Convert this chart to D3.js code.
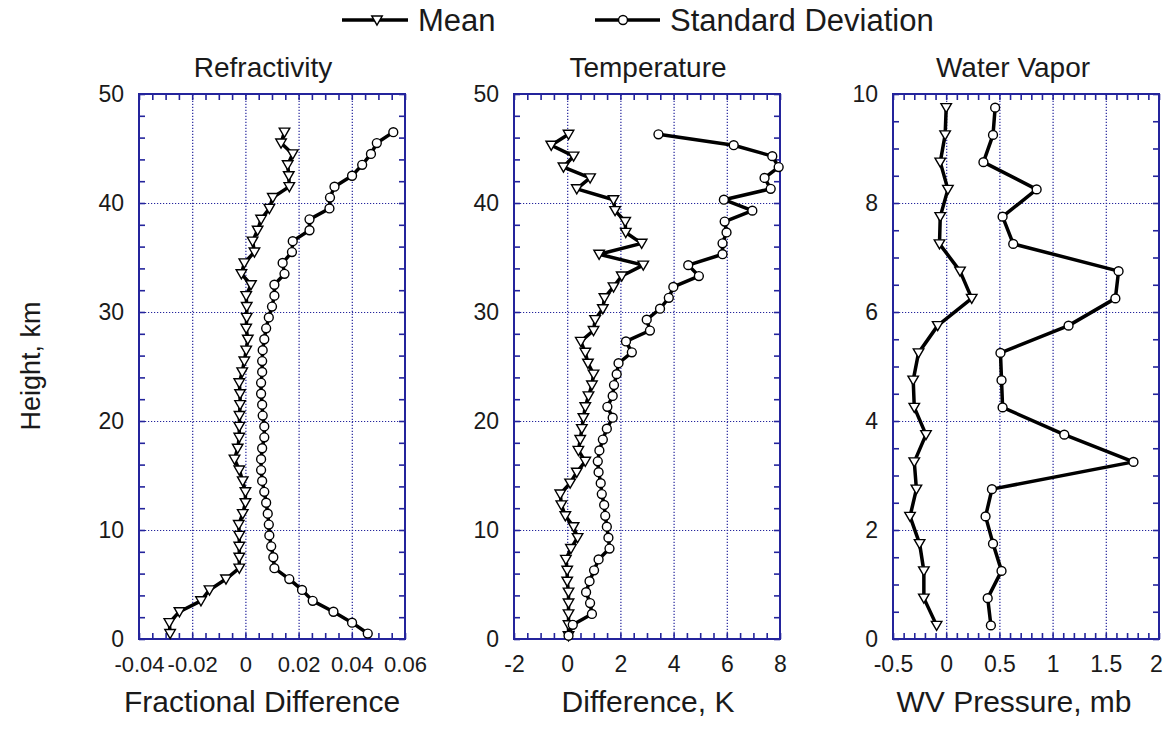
<!DOCTYPE html>
<html>
<head>
<meta charset="utf-8">
<script src="https://cdn.jsdelivr.net/npm/d3@7"></script>
<style>
  html, body { margin: 0; padding: 0; background: #ffffff; }
  svg { display: block; }
  text { font-family: "Liberation Sans", Arial, Helvetica, sans-serif; fill: #1a1a1a; }
</style>
</head>
<body>
<svg id="chart" width="1164" height="732"></svg>
<script>
// ---------------- DATA ----------------
const refrHeight = [0.5,1.5,2.5,3.5,4.5,5.5,6.5,7.5,8.5,9.5,10.5,11.5,12.5,13.5,14.5,15.5,16.5,17.5,18.5,19.5,
  20.5,21.5,22.5,23.5,24.5,25.5,26.5,27.5,28.5,29.5,30.5,31.5,32.5,33.5,34.5,35.5,36.5,37.5,38.5,39.5,
  40.5,41.5,42.5,43.5,44.5,45.5,46.5];
const refrMean = [-0.0283,-0.0286,-0.0248,-0.0167,-0.0135,-0.0073,-0.0023,-0.0023,-0.0023,-0.0023,
  -0.0025,-0.0010,0.0000,0.0000,-0.0010,-0.0023,-0.0041,-0.0029,-0.0023,-0.0023,
  -0.0022,-0.0020,-0.0020,-0.0023,-0.0012,-0.0004,0.0003,0.0009,0.0003,0.0005,
  0.0005,0.0003,0.0021,-0.0015,-0.0004,0.0034,0.0027,0.0046,0.0059,0.0090,
  0.0103,0.0165,0.0163,0.0159,0.0178,0.0134,0.0147];
const refrStd = [0.0460,0.0401,0.0331,0.0253,0.0213,0.0165,0.0109,0.0105,0.0097,0.0090,
  0.0088,0.0084,0.0078,0.0071,0.0063,0.0059,0.0059,0.0063,0.0071,0.0071,
  0.0065,0.0063,0.0059,0.0059,0.0063,0.0063,0.0065,0.0071,0.0078,0.0088,
  0.0100,0.0109,0.0109,0.0147,0.0140,0.0175,0.0178,0.0241,0.0241,0.0316,
  0.0318,0.0335,0.0401,0.0439,0.0472,0.0494,0.0556];

const tempHeight = [0.3,1.3,2.3,3.3,4.3,5.3,6.3,7.3,8.3,9.3,10.3,11.3,12.3,13.3,14.3,15.3,16.3,17.3,18.3,19.3,
  20.3,21.3,22.3,23.3,24.3,25.3,26.3,27.3,28.3,29.3,30.3,31.3,32.3,33.3,34.3,35.3,36.3,37.3,38.3,39.3,
  40.3,41.3,42.3,43.3,44.3,45.3,46.3];
const tempMean = [0.05,0.05,0.05,0.05,0.05,0.00,0.00,-0.05,0.14,0.39,
  0.24,-0.07,-0.22,-0.26,0.11,0.36,0.68,0.42,0.49,0.55,
  0.61,0.68,0.80,0.93,0.99,0.78,0.68,0.51,0.99,1.05,
  1.34,1.40,1.74,2.05,2.86,1.20,2.80,2.20,2.18,1.80,
  1.74,0.36,0.86,-0.14,0.24,-0.60,0.05];
const tempStd = [0.05,0.21,0.93,0.86,0.71,0.84,1.01,1.18,1.59,1.55,
  1.49,1.43,1.39,1.30,1.26,1.18,1.15,1.21,1.34,1.49,
  1.71,1.51,1.71,1.76,1.86,1.93,2.43,2.21,3.11,2.99,
  3.49,3.82,3.99,4.95,4.55,5.84,5.84,5.99,5.92,6.96,
  5.89,7.65,7.42,7.95,7.71,6.26,3.43];

const wvHeight = [0.25,0.75,1.25,1.75,2.25,2.75,3.25,3.75,4.25,4.75,5.25,5.75,6.25,6.75,7.25,7.75,8.25,8.75,9.25,9.75];
const wvMean = [-0.09,-0.21,-0.21,-0.25,-0.34,-0.28,-0.30,-0.19,-0.30,-0.31,
  -0.26,-0.08,0.24,0.13,-0.063,-0.056,0.016,-0.056,-0.01,0.00];
const wvStd = [0.42,0.39,0.52,0.44,0.37,0.43,1.76,1.11,0.53,0.52,
  0.51,1.15,1.59,1.62,0.63,0.53,0.85,0.35,0.44,0.46];

const refrXTicks = [-0.04,-0.02,0,0.02,0.04,0.06];
const refrXLabels = ["-0.04","-0.02","0","0.02","0.04","0.06"];
const tempXTicks = [-2,0,2,4,6,8];
const tempXLabels = ["-2","0","2","4","6","8"];
const wvXTicks = [-0.5,0,0.5,1,1.5,2];
const wvXLabels = ["-0.5","0","0.5","1","1.5","2"];
const kmYTicks = [0,10,20,30,40,50];
const wvYTicks = [0,2,4,6,8,10];

const titles = ["Refractivity","Temperature","Water Vapor"];
const xTitles = ["Fractional Difference","Difference, K","WV Pressure, mb"];
const yTitle = "Height, km";
const seriesNames = ["Mean","Standard Deviation"];

// ---------------- LAYOUT ----------------
const svg = d3.select("#chart");
const plotTop = 94, plotBottom = 639;
const blue = "#24249c";

const panels = [
  { x0:139, x1:405, xd:[-0.04,0.06], xt:refrXTicks, xl:refrXLabels, xmin:0.005, xfs:22,
    yd:[0,50], yt:kmYTicks, ymin:2, h:refrHeight, mean:refrMean, std:refrStd,
    title:titles[0], tx:263, xlab:xTitles[0], lx:262 },
  { x0:514, x1:780, xd:[-2,8], xt:tempXTicks, xl:tempXLabels, xmin:0.5, xfs:23,
    yd:[0,50], yt:kmYTicks, ymin:2, h:tempHeight, mean:tempMean, std:tempStd,
    title:titles[1], tx:648, xlab:xTitles[1], lx:648 },
  { x0:893, x1:1159, xd:[-0.5,2], xt:wvXTicks, xl:wvXLabels, xmin:0.1, xfs:23,
    yd:[0,10], yt:wvYTicks, ymin:0.5, h:wvHeight, mean:wvMean, std:wvStd,
    title:titles[2], tx:1013, xlab:xTitles[2], lx:1014 }
];

const triSym = d3.symbol().type(d3.symbolTriangle).size(48);
const cirSym = d3.symbol().type(d3.symbolCircle).size(62);

function stepRange(a, b, s) {
  const n = Math.round((b - a) / s);
  return d3.range(n + 1).map(i => a + i * s);
}

panels.forEach(p => {
  const x = d3.scaleLinear().domain(p.xd).range([p.x0, p.x1]);
  const y = d3.scaleLinear().domain(p.yd).range([plotBottom, plotTop]);
  const g = svg.append("g");
  const w = p.x1 - p.x0, hgt = plotBottom - plotTop;

  // gridlines (dotted) at interior major ticks
  const xInner = p.xt.filter(v => v > p.xd[0] && v < p.xd[1]);
  const yInner = p.yt.filter(v => v > p.yd[0] && v < p.yd[1]);
  g.append("g").attr("transform", `translate(0,${plotBottom})`)
    .call(d3.axisBottom(x).tickValues(xInner).tickSize(-hgt).tickFormat(""))
    .call(s => s.select(".domain").remove())
    .call(s => s.selectAll("line").attr("stroke", blue).attr("stroke-width", 1.2).attr("stroke-dasharray", "1.2,1.8"));
  g.append("g").attr("transform", `translate(${p.x0},0)`)
    .call(d3.axisLeft(y).tickValues(yInner).tickSize(-w).tickFormat(""))
    .call(s => s.select(".domain").remove())
    .call(s => s.selectAll("line").attr("stroke", blue).attr("stroke-width", 1.2).attr("stroke-dasharray", "1.2,1.8"));

  // minor ticks inward on all four sides
  const xm = stepRange(p.xd[0], p.xd[1], p.xmin);
  const ym = stepRange(p.yd[0], p.yd[1], p.ymin);
  const tickStyle = s => { s.select(".domain").remove(); s.selectAll("line").attr("stroke", blue).attr("stroke-width", 1.6); };
  g.append("g").attr("transform", `translate(0,${plotBottom})`)
    .call(d3.axisBottom(x).tickValues(xm).tickSize(-6).tickFormat("")).call(tickStyle);
  g.append("g").attr("transform", `translate(0,${plotTop})`)
    .call(d3.axisTop(x).tickValues(xm).tickSize(-6).tickFormat("")).call(tickStyle);
  g.append("g").attr("transform", `translate(${p.x0},0)`)
    .call(d3.axisLeft(y).tickValues(ym).tickSize(-6).tickFormat("")).call(tickStyle);
  g.append("g").attr("transform", `translate(${p.x1},0)`)
    .call(d3.axisRight(y).tickValues(ym).tickSize(-6).tickFormat("")).call(tickStyle);

  // frame
  g.append("rect").attr("x", p.x0).attr("y", plotTop).attr("width", w).attr("height", hgt)
    .attr("fill", "none").attr("stroke", blue).attr("stroke-width", 2);

  // tick labels
  const xlab = g.append("g").attr("transform", `translate(0,${plotBottom})`)
    .call(d3.axisBottom(x).tickValues(p.xt).tickSize(0).tickPadding(17).tickFormat((d, i) => p.xl[i]))
    .call(s => s.select(".domain").remove())
    .call(s => s.selectAll("text").attr("font-size", p.xfs).attr("font-family", null).attr("fill", "#1a1a1a"));
  // keep the right-most label inside the page
  xlab.selectAll(".tick text").filter(d => d === p.xd[1] && p.x1 > 1150).attr("dx", -3);
  g.append("g").attr("transform", `translate(${p.x0},0)`)
    .call(d3.axisLeft(y).tickValues(p.yt).tickSize(0).tickPadding(15).tickFormat(d3.format("d")))
    .call(s => s.select(".domain").remove())
    .call(s => s.selectAll("text").attr("font-size", 23).attr("font-family", null).attr("fill", "#1a1a1a"));

  // series
  const line = d3.line().x(d => x(d[0])).y(d => y(d[1]));
  const meanPts = p.mean.map((v, i) => [v, p.h[i]]);
  const stdPts = p.std.map((v, i) => [v, p.h[i]]);
  [meanPts, stdPts].forEach(pts => {
    g.append("path").datum(pts).attr("d", line)
      .attr("fill", "none").attr("stroke", "#000").attr("stroke-width", 3.5).attr("stroke-linejoin", "round");
  });
  g.selectAll(null).data(meanPts).join("path")
    .attr("d", triSym)
    .attr("transform", d => `translate(${x(d[0])},${y(d[1]) - 1}) rotate(180)`)
    .attr("fill", "#fff").attr("stroke", "#000").attr("stroke-width", 1.4);
  g.selectAll(null).data(stdPts).join("path")
    .attr("d", cirSym)
    .attr("transform", d => `translate(${x(d[0])},${y(d[1])})`)
    .attr("fill", "#fff").attr("stroke", "#000").attr("stroke-width", 1.4);

  // titles
  g.append("text").attr("x", p.tx).attr("y", 77).attr("text-anchor", "middle")
    .attr("font-size", 28).text(p.title);
  g.append("text").attr("x", p.lx).attr("y", 712).attr("text-anchor", "middle")
    .attr("font-size", 30).text(p.xlab);
});

// y axis title
svg.append("text").attr("transform", "translate(40,366) rotate(-90)")
  .attr("text-anchor", "middle").attr("font-size", 27).text(yTitle);

// legend
const leg = svg.append("g");
const legItems = [
  { x1:342, x2:408, mx:377, sym:triSym, rot:180, tx:418, name:seriesNames[0] },
  { x1:595, x2:660, mx:623, sym:cirSym, rot:0, tx:670, name:seriesNames[1] }
];
legItems.forEach(it => {
  leg.append("line").attr("x1", it.x1).attr("x2", it.x2).attr("y1", 20).attr("y2", 20)
    .attr("stroke", "#000").attr("stroke-width", 3.5);
  leg.append("path").attr("d", it.sym)
    .attr("transform", `translate(${it.mx},${it.rot ? 19 : 20}) rotate(${it.rot})`)
    .attr("fill", "#fff").attr("stroke", "#000").attr("stroke-width", 1.4);
  leg.append("text").attr("x", it.tx).attr("y", 31).attr("font-size", 31).text(it.name);
});
</script>
</body>
</html>
